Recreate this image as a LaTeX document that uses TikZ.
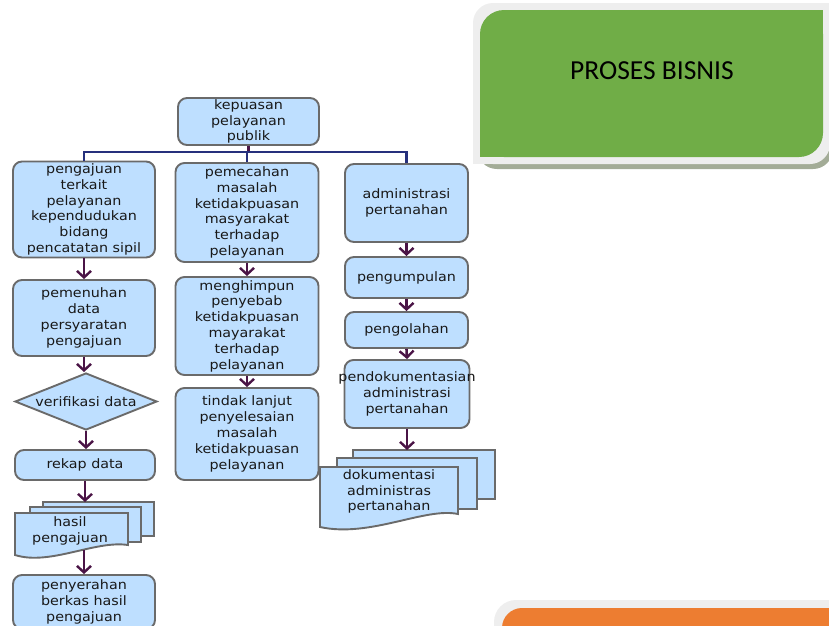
\documentclass[tikz,border=0pt]{standalone}
\usepackage{fontspec}
\setmainfont{DejaVu Sans}[FakeStretch=1.1]
\newfontfamily\titlefont{Carlito}
\usetikzlibrary{arrows.meta,shapes.geometric}

\definecolor{boxfill}{HTML}{BEDFFF}
\definecolor{boxline}{HTML}{6A6A6A}
\definecolor{flowline}{HTML}{4A1446}
\definecolor{busline}{HTML}{26307C}
\definecolor{txt}{HTML}{181818}
\definecolor{leafgreen}{HTML}{70AD47}
\definecolor{panelgray}{HTML}{EEEEEE}
\definecolor{panelshadow}{HTML}{A3AC97}
\definecolor{accentorange}{HTML}{ED7D31}

\tikzset{
  boxfont/.style={font=\fontsize{13}{15.8}\selectfont},
  proc/.style={draw=boxline, line width=1.9pt, fill=boxfill, rounded corners=9pt,
    inner sep=0pt, align=center, text=txt, boxfont},
  decision/.style={diamond, draw=boxline, line width=1.9pt, fill=boxfill,
    inner sep=0pt, text=txt, boxfont},
  docpage/.style={draw=boxline, line width=1.9pt, fill=boxfill},
  doctext/.style={inner sep=0pt, align=center, text=txt, boxfont},
  flow/.style={draw=flowline, line width=2.6pt,
    -{Straight Barb[length=6.5pt,width=14pt,line width=2.4pt]}},
  trunk/.style={draw=flowline, line width=2.6pt},
  bus/.style={draw=busline, line width=2.2pt},
}

\begin{document}
\begin{tikzpicture}[x=1pt,y=-1pt]
\useasboundingbox (0,0) rectangle (829,625);
\clip (0,0) rectangle (829,625);

% ---- title panel ----
\fill[panelshadow, rounded corners=20pt] (477,8) rectangle (833,169);
\fill[panelgray, rounded corners=20pt] (473,3) rectangle (830,164);
\fill[panelgray] (700,3) rectangle (830,60);
\fill[panelgray] (473,100) rectangle (600,164);
\fill[leafgreen, rounded corners=24pt] (480,10) rectangle (823,157);
\fill[leafgreen] (700,10) rectangle (823,60);
\fill[leafgreen] (480,100) rectangle (600,157);
\node[font=\titlefont\fontsize{27.5}{30}\selectfont, text=black] (title) at (652,71) {PROSES BISNIS};

% ---- lower panel ----
\fill[panelgray, rounded corners=22pt] (494,600) rectangle (870,690);
\fill[accentorange, rounded corners=20pt] (502,608) rectangle (870,690);

% ---- root ----
\node[proc, minimum width=141pt, minimum height=47pt] (kep) at (248.5,121.5)
  {kepuasan\\pelayanan\\publik};

% ---- left column ----
\node[proc, minimum width=142pt, minimum height=96pt] (aju) at (84,209.5)
  {pengajuan\\terkait\\pelayanan\\kependudukan\\bidang\\pencatatan sipil};
\node[proc, minimum width=142pt, minimum height=76pt] (syarat) at (84,318)
  {pemenuhan\\data\\persyaratan\\pengajuan};
\node[decision, minimum width=142pt, minimum height=57pt] (verif) at (86,401.5)
  {\makebox[0pt]{verifikasi data}};
\node[proc, minimum width=140pt, minimum height=30pt] (rekap) at (85,465)
  {rekap data};

% stacked documents: hasil pengajuan
\filldraw[docpage] (43,502) rectangle (154,536);
\filldraw[docpage] (30,507) rectangle (141,542);
\filldraw[docpage] (15,513) -- (128,513) -- (128,545)
  .. controls (95,540) and (50,566) .. (15,555) -- cycle;
\node[doctext] (hasil) at (70,531) {hasil\\pengajuan};
\coordinate (hasil-in) at (85,502);
\coordinate (hasil-out) at (84,550);

\node[proc, minimum width=142pt, minimum height=54pt] (serah) at (84,602)
  {penyerahan\\berkas hasil\\pengajuan};

% ---- middle column ----
\node[proc, minimum width=143pt, minimum height=99pt] (pecah) at (247,212.5)
  {pemecahan\\masalah\\ketidakpuasan\\masyarakat\\terhadap\\pelayanan};
\node[proc, minimum width=143pt, minimum height=98pt] (himpun) at (247,326)
  {menghimpun\\penyebab\\ketidakpuasan\\mayarakat\\terhadap\\pelayanan};
\node[proc, minimum width=143pt, minimum height=92pt] (tindak) at (247,434)
  {tindak lanjut\\penyelesaian\\masalah\\ketidakpuasan\\pelayanan};

% ---- right column ----
\node[proc, minimum width=123pt, minimum height=78pt] (adm) at (406.5,203)
  {administrasi\\pertanahan};
\node[proc, minimum width=123pt, minimum height=41pt] (kumpul) at (406.5,277.5)
  {pengumpulan};
\node[proc, minimum width=123pt, minimum height=36pt] (olah) at (406.5,330)
  {pengolahan};
\node[proc, minimum width=125pt, minimum height=68pt] (dokum) at (407,394)
  {\makebox[100pt]{pendokumentasian}\\administrasi\\pertanahan};

% stacked documents: dokumentasi administras pertanahan
\filldraw[docpage] (353,450) rectangle (495,499);
\filldraw[docpage] (337,458) rectangle (477,509);
\filldraw[docpage] (320,467) -- (458,467) -- (458,514)
  .. controls (425,507) and (370,538) .. (320,527) -- cycle;
\node[doctext] (arsip) at (389,491.5) {dokumentasi\\administras\\pertanahan};
\coordinate (arsip-in) at (407,450);

% ---- connectors ----
\coordinate (busy) at (0,152);
\draw[trunk] (kep.south) -- (kep.south |- busy);
\draw[bus] (aju.north) -- (aju.north |- busy) -- (adm.north |- busy) -- (adm.north);
\draw[bus] (pecah.north |- busy) -- (pecah.north);

\draw[flow] (aju.south) -- (syarat.north);
\draw[flow] (syarat.south) -- (syarat.south |- verif.north);
\draw[flow] (verif.south) -- (verif.south |- rekap.north);
\draw[flow] (rekap.south) -- (hasil-in);
\draw[flow] (hasil-out) -- (serah.north);

\draw[flow] (pecah.south) -- (himpun.north);
\draw[flow] (himpun.south) -- (tindak.north);

\draw[flow] (adm.south) -- (kumpul.north);
\draw[flow] (kumpul.south) -- (olah.north);
\draw[flow] (olah.south) -- (dokum.north);
\draw[flow] (dokum.south) -- (arsip-in);
\end{tikzpicture}
\end{document}
